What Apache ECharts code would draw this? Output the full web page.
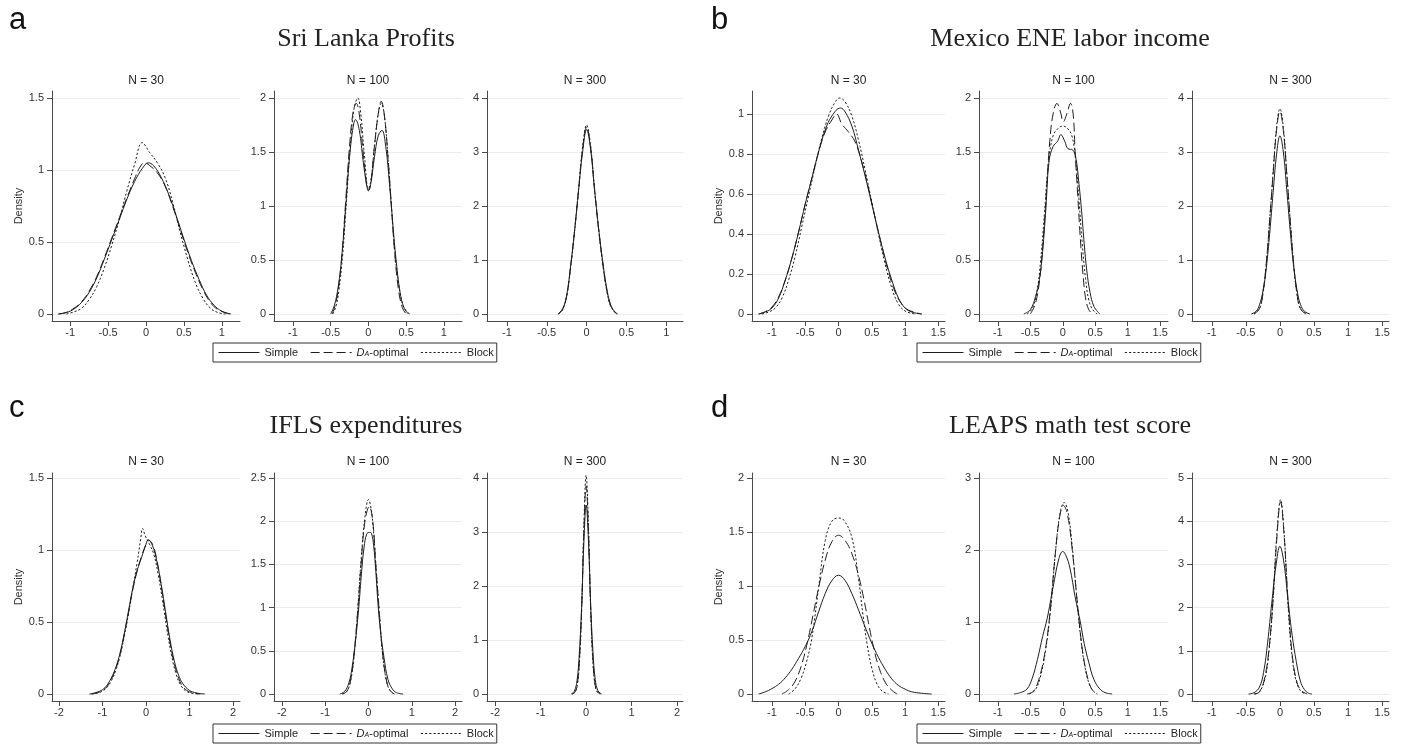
<!DOCTYPE html>
<html><head><meta charset="utf-8">
<script src="https://cdn.jsdelivr.net/npm/echarts@6/dist/echarts.min.js"></script>
<style>html,body{margin:0;padding:0;background:#fff}#c{width:1402px;height:746px}</style>
</head><body><div id="c"></div><script>
// ---------------- DATA ----------------
const seriesNames = ['Simple', 'DA-optimal', 'Block'];
const panelLetters = ['a', 'b', 'c', 'd'];
const panelTitles = ['Sri Lanka Profits', 'Mexico ENE labor income', 'IFLS expenditures', 'LEAPS math test score'];
const sampleSizes = ['N = 30', 'N = 100', 'N = 300'];

const xTicksA = [-1, -0.5, 0, 0.5, 1];
const xTicksB = [-1, -0.5, 0, 0.5, 1, 1.5];
const xTicksC = [-2, -1, 0, 1, 2];
const xTicksD = [-1, -0.5, 0, 0.5, 1, 1.5];

const yTicksA30 = [0, 0.5, 1, 1.5];
const yTicksA100 = [0, 0.5, 1, 1.5, 2];
const yTicksA300 = [0, 1, 2, 3, 4];
const yTicksB30 = [0, 0.2, 0.4, 0.6, 0.8, 1];
const yTicksB100 = [0, 0.5, 1, 1.5, 2];
const yTicksB300 = [0, 1, 2, 3, 4];
const yTicksC30 = [0, 0.5, 1, 1.5];
const yTicksC100 = [0, 0.5, 1, 1.5, 2, 2.5];
const yTicksC300 = [0, 1, 2, 3, 4];
const yTicksD30 = [0, 0.5, 1, 1.5, 2];
const yTicksD100 = [0, 1, 2, 3];
const yTicksD300 = [0, 1, 2, 3, 4, 5];

// Panel a: Sri Lanka Profits
const a30Simple = [[-1.16,0],[-1.05,0.01],[-0.95,0.035],[-0.85,0.08],[-0.75,0.15],[-0.65,0.25],[-0.55,0.38],[-0.45,0.52],[-0.35,0.66],[-0.25,0.8],[-0.15,0.92],[-0.05,1.01],[0.03,1.05],[0.1,1.03],[0.2,0.95],[0.3,0.83],[0.4,0.68],[0.5,0.52],[0.6,0.37],[0.7,0.24],[0.8,0.13],[0.9,0.06],[1.0,0.02],[1.12,0]];
const a30Dopt = [[-1.15,0],[-1.05,0.012],[-0.95,0.04],[-0.85,0.085],[-0.75,0.16],[-0.65,0.26],[-0.55,0.39],[-0.45,0.53],[-0.35,0.67],[-0.25,0.81],[-0.15,0.94],[-0.08,1.02],[-0.02,1.05],[0.05,1.03],[0.15,0.98],[0.25,0.89],[0.35,0.75],[0.45,0.59],[0.55,0.43],[0.65,0.29],[0.75,0.17],[0.85,0.08],[0.95,0.03],[1.1,0]];
const a30Block = [[-1.05,0],[-0.95,0.015],[-0.85,0.04],[-0.75,0.1],[-0.65,0.19],[-0.55,0.32],[-0.45,0.48],[-0.35,0.66],[-0.25,0.86],[-0.15,1.04],[-0.05,1.19],[0.05,1.12],[0.15,1.05],[0.25,0.95],[0.35,0.78],[0.45,0.57],[0.55,0.38],[0.65,0.22],[0.75,0.11],[0.85,0.04],[0.95,0.01],[1.05,0]];
const a100Simple = [[-0.5,0],[-0.45,0.08],[-0.4,0.25],[-0.35,0.55],[-0.3,1.0],[-0.25,1.45],[-0.2,1.74],[-0.17,1.8],[-0.12,1.7],[-0.07,1.42],[-0.02,1.18],[0,1.15],[0.03,1.2],[0.08,1.45],[0.13,1.65],[0.18,1.7],[0.23,1.55],[0.28,1.2],[0.33,0.78],[0.37,0.48],[0.42,0.2],[0.47,0.06],[0.53,0]];
const a100Dopt = [[-0.48,0],[-0.44,0.08],[-0.4,0.22],[-0.35,0.55],[-0.3,1.05],[-0.25,1.55],[-0.2,1.88],[-0.16,1.95],[-0.12,1.85],[-0.07,1.5],[-0.02,1.18],[0,1.14],[0.03,1.2],[0.08,1.55],[0.13,1.85],[0.17,1.97],[0.21,1.85],[0.26,1.45],[0.31,0.95],[0.35,0.55],[0.4,0.22],[0.45,0.06],[0.5,0]];
const a100Block = [[-0.47,0],[-0.43,0.07],[-0.39,0.22],[-0.34,0.55],[-0.29,1.05],[-0.24,1.55],[-0.19,1.9],[-0.14,2.0],[-0.1,1.85],[-0.05,1.45],[0,1.16],[0.03,1.22],[0.08,1.55],[0.13,1.85],[0.17,1.95],[0.21,1.85],[0.26,1.45],[0.31,0.95],[0.35,0.58],[0.4,0.28],[0.45,0.1],[0.5,0.03],[0.55,0]];
const a300Simple = [[-0.36,0],[-0.3,0.1],[-0.25,0.35],[-0.2,0.9],[-0.15,1.55],[-0.1,2.3],[-0.05,3.0],[0,3.42],[0.05,3.05],[0.1,2.3],[0.15,1.6],[0.2,1.0],[0.25,0.5],[0.3,0.18],[0.35,0.05],[0.39,0]];
const a300Dopt = [[-0.35,0],[-0.3,0.09],[-0.25,0.33],[-0.2,0.88],[-0.15,1.55],[-0.1,2.3],[-0.05,3.05],[0,3.46],[0.05,3.1],[0.1,2.3],[0.15,1.58],[0.2,0.97],[0.25,0.47],[0.3,0.16],[0.35,0.04],[0.38,0]];
const a300Block = [[-0.35,0],[-0.3,0.08],[-0.25,0.32],[-0.2,0.86],[-0.15,1.55],[-0.1,2.32],[-0.05,3.1],[0,3.5],[0.05,3.12],[0.1,2.32],[0.15,1.58],[0.2,0.95],[0.25,0.45],[0.3,0.15],[0.35,0.04],[0.38,0]];

// Panel b: Mexico ENE labor income
const b30Simple = [[-1.2,0],[-1.1,0.01],[-1.0,0.03],[-0.9,0.08],[-0.8,0.17],[-0.7,0.28],[-0.6,0.41],[-0.5,0.55],[-0.4,0.68],[-0.3,0.81],[-0.2,0.92],[-0.1,0.99],[0.03,1.03],[0.1,1.01],[0.2,0.94],[0.3,0.82],[0.4,0.69],[0.5,0.55],[0.6,0.41],[0.7,0.28],[0.8,0.17],[0.9,0.08],[1.0,0.03],[1.1,0.01],[1.25,0]];
const b30Dopt = [[-1.2,0],[-1.1,0.012],[-1.0,0.035],[-0.9,0.085],[-0.8,0.17],[-0.7,0.28],[-0.6,0.41],[-0.5,0.55],[-0.4,0.68],[-0.3,0.81],[-0.2,0.91],[-0.1,0.97],[-0.03,1.0],[0.05,0.95],[0.15,0.91],[0.25,0.86],[0.35,0.76],[0.45,0.63],[0.55,0.48],[0.65,0.34],[0.75,0.21],[0.85,0.11],[0.95,0.05],[1.05,0.02],[1.25,0]];
const b30Block = [[-1.15,0],[-1.05,0.01],[-0.95,0.03],[-0.85,0.08],[-0.75,0.17],[-0.65,0.29],[-0.55,0.44],[-0.45,0.59],[-0.35,0.74],[-0.25,0.88],[-0.15,0.99],[-0.05,1.06],[0.02,1.08],[0.1,1.06],[0.2,0.99],[0.3,0.87],[0.4,0.72],[0.5,0.56],[0.6,0.4],[0.7,0.25],[0.8,0.13],[0.9,0.05],[1.0,0.015],[1.15,0]];
const b100Simple = [[-0.6,0],[-0.5,0.04],[-0.42,0.16],[-0.36,0.32],[-0.31,0.58],[-0.26,0.98],[-0.21,1.42],[-0.15,1.55],[-0.08,1.6],[-0.03,1.66],[0.03,1.6],[0.08,1.53],[0.15,1.52],[0.2,1.45],[0.25,1.2],[0.29,0.95],[0.33,0.65],[0.37,0.4],[0.42,0.2],[0.48,0.07],[0.57,0]];
const b100Dopt = [[-0.5,0],[-0.42,0.1],[-0.35,0.35],[-0.3,0.7],[-0.25,1.15],[-0.2,1.6],[-0.15,1.85],[-0.09,1.95],[-0.04,1.88],[0.01,1.78],[0.06,1.85],[0.12,1.95],[0.16,1.85],[0.19,1.5],[0.23,1.1],[0.27,0.7],[0.31,0.38],[0.35,0.15],[0.4,0.04],[0.46,0]];
const b100Block = [[-0.55,0],[-0.47,0.05],[-0.4,0.2],[-0.34,0.5],[-0.28,0.95],[-0.22,1.4],[-0.15,1.65],[-0.07,1.72],[0,1.74],[0.07,1.72],[0.14,1.65],[0.2,1.42],[0.25,1.05],[0.3,0.65],[0.35,0.33],[0.4,0.13],[0.46,0.04],[0.53,0]];
const b300Simple = [[-0.42,0],[-0.35,0.05],[-0.3,0.17],[-0.25,0.42],[-0.2,0.85],[-0.15,1.5],[-0.1,2.25],[-0.05,2.95],[0,3.3],[0.05,3.0],[0.1,2.3],[0.15,1.55],[0.2,0.9],[0.25,0.45],[0.3,0.18],[0.36,0.05],[0.44,0]];
const b300Dopt = [[-0.38,0],[-0.3,0.1],[-0.25,0.38],[-0.2,0.95],[-0.15,1.75],[-0.1,2.6],[-0.05,3.4],[0,3.75],[0.05,3.4],[0.1,2.6],[0.15,1.75],[0.2,0.95],[0.25,0.38],[0.3,0.1],[0.38,0]];
const b300Block = [[-0.38,0],[-0.3,0.1],[-0.25,0.37],[-0.2,0.93],[-0.15,1.75],[-0.1,2.62],[-0.05,3.45],[0,3.8],[0.05,3.45],[0.1,2.62],[0.15,1.75],[0.2,0.93],[0.25,0.37],[0.3,0.1],[0.4,0]];

// Panel c: IFLS expenditures
const c30Simple = [[-1.3,0],[-1.15,0.01],[-1.0,0.03],[-0.9,0.06],[-0.8,0.11],[-0.7,0.18],[-0.6,0.28],[-0.5,0.42],[-0.4,0.58],[-0.3,0.74],[-0.2,0.86],[-0.1,0.95],[0,1.04],[0.05,1.07],[0.15,1.03],[0.25,0.92],[0.35,0.76],[0.45,0.57],[0.55,0.38],[0.65,0.23],[0.75,0.13],[0.85,0.07],[1.0,0.025],[1.15,0.008],[1.35,0]];
const c30Dopt = [[-1.25,0],[-1.1,0.01],[-1.0,0.025],[-0.9,0.05],[-0.8,0.1],[-0.7,0.17],[-0.6,0.27],[-0.5,0.41],[-0.4,0.57],[-0.3,0.73],[-0.2,0.86],[-0.1,0.96],[0,1.04],[0.05,1.07],[0.15,1.04],[0.25,0.93],[0.35,0.75],[0.45,0.55],[0.55,0.36],[0.65,0.21],[0.75,0.11],[0.85,0.05],[1.0,0.015],[1.25,0]];
const c30Block = [[-1.25,0],[-1.1,0.008],[-1.0,0.02],[-0.9,0.045],[-0.8,0.09],[-0.7,0.16],[-0.6,0.26],[-0.5,0.4],[-0.4,0.56],[-0.3,0.74],[-0.2,0.92],[-0.12,1.08],[-0.08,1.15],[-0.02,1.1],[0.08,1.04],[0.18,0.97],[0.28,0.83],[0.38,0.65],[0.48,0.45],[0.58,0.28],[0.68,0.15],[0.8,0.06],[0.95,0.015],[1.2,0]];
const c100Simple = [[-0.66,0],[-0.55,0.03],[-0.45,0.13],[-0.38,0.3],[-0.32,0.52],[-0.27,0.75],[-0.22,1.02],[-0.16,1.4],[-0.1,1.7],[-0.04,1.85],[0.02,1.87],[0.07,1.86],[0.12,1.72],[0.17,1.42],[0.22,1.05],[0.28,0.72],[0.36,0.42],[0.45,0.17],[0.55,0.06],[0.65,0.015],[0.8,0]];
const c100Dopt = [[-0.6,0],[-0.5,0.03],[-0.42,0.14],[-0.34,0.42],[-0.25,0.95],[-0.17,1.5],[-0.08,2.0],[0.02,2.17],[0.1,2.0],[0.17,1.5],[0.25,0.95],[0.33,0.45],[0.42,0.15],[0.5,0.04],[0.6,0]];
const c100Block = [[-0.6,0],[-0.5,0.03],[-0.42,0.13],[-0.34,0.4],[-0.25,0.95],[-0.17,1.55],[-0.08,2.05],[0,2.25],[0.08,2.08],[0.17,1.5],[0.25,0.95],[0.33,0.45],[0.42,0.14],[0.5,0.04],[0.6,0]];
const c300Simple = [[-0.33,0],[-0.26,0.05],[-0.2,0.25],[-0.15,0.75],[-0.1,1.6],[-0.05,2.8],[0,3.5],[0.05,2.85],[0.1,1.65],[0.15,0.78],[0.2,0.27],[0.26,0.06],[0.34,0]];
const c300Dopt = [[-0.31,0],[-0.25,0.03],[-0.2,0.15],[-0.15,0.6],[-0.1,1.55],[-0.05,3.0],[0,3.85],[0.05,3.05],[0.1,1.6],[0.15,0.62],[0.2,0.16],[0.25,0.04],[0.31,0]];
const c300Block = [[-0.3,0],[-0.25,0.03],[-0.2,0.13],[-0.15,0.55],[-0.1,1.5],[-0.05,3.1],[0,4.05],[0.05,3.15],[0.1,1.55],[0.15,0.57],[0.2,0.14],[0.25,0.03],[0.3,0]];

// Panel d: LEAPS math test score
const d30Simple = [[-1.2,0],[-1.1,0.02],[-1.0,0.05],[-0.9,0.09],[-0.8,0.15],[-0.7,0.23],[-0.6,0.33],[-0.5,0.44],[-0.4,0.58],[-0.3,0.76],[-0.2,0.93],[-0.1,1.05],[0,1.1],[0.1,1.05],[0.2,0.93],[0.3,0.78],[0.4,0.62],[0.5,0.47],[0.6,0.34],[0.7,0.23],[0.8,0.14],[0.9,0.08],[1.0,0.045],[1.1,0.02],[1.25,0.007],[1.4,0]];
const d30Dopt = [[-0.85,0],[-0.75,0.04],[-0.65,0.12],[-0.55,0.28],[-0.46,0.5],[-0.38,0.74],[-0.3,0.98],[-0.2,1.24],[-0.1,1.41],[0,1.47],[0.1,1.42],[0.2,1.3],[0.3,1.1],[0.38,0.88],[0.45,0.66],[0.52,0.45],[0.6,0.26],[0.7,0.11],[0.8,0.035],[0.88,0]];
const d30Block = [[-0.75,0],[-0.65,0.05],[-0.56,0.15],[-0.48,0.3],[-0.4,0.52],[-0.3,0.98],[-0.2,1.42],[-0.1,1.6],[0,1.63],[0.08,1.61],[0.2,1.45],[0.3,1.07],[0.37,0.72],[0.43,0.46],[0.5,0.24],[0.58,0.09],[0.66,0.025],[0.75,0]];
const d100Simple = [[-0.75,0],[-0.65,0.02],[-0.55,0.07],[-0.47,0.22],[-0.39,0.48],[-0.31,0.8],[-0.24,1.05],[-0.15,1.48],[-0.06,1.88],[0,1.98],[0.05,1.92],[0.11,1.75],[0.19,1.35],[0.27,1.0],[0.33,0.7],[0.4,0.44],[0.48,0.2],[0.57,0.07],[0.65,0.02],[0.76,0]];
const d100Dopt = [[-0.55,0],[-0.45,0.04],[-0.37,0.2],[-0.28,0.55],[-0.2,1.1],[-0.12,1.9],[-0.05,2.45],[0.01,2.62],[0.07,2.5],[0.14,2.05],[0.21,1.4],[0.27,0.85],[0.33,0.45],[0.4,0.17],[0.46,0.05],[0.53,0]];
const d100Block = [[-0.52,0],[-0.43,0.05],[-0.35,0.22],[-0.27,0.58],[-0.19,1.15],[-0.11,2.0],[-0.04,2.52],[0.02,2.66],[0.08,2.53],[0.15,2.0],[0.22,1.3],[0.28,0.75],[0.34,0.38],[0.41,0.13],[0.47,0.04],[0.53,0]];
const d300Simple = [[-0.46,0],[-0.38,0.03],[-0.3,0.16],[-0.24,0.5],[-0.18,1.2],[-0.12,2.1],[-0.06,2.95],[0,3.42],[0.06,3.02],[0.12,2.15],[0.18,1.35],[0.24,0.75],[0.3,0.3],[0.36,0.1],[0.42,0.02],[0.47,0]];
const d300Dopt = [[-0.38,0],[-0.3,0.05],[-0.22,0.4],[-0.16,1.05],[-0.1,2.2],[-0.05,3.5],[0.01,4.45],[0.06,3.7],[0.1,2.65],[0.14,1.65],[0.18,0.92],[0.23,0.4],[0.3,0.1],[0.4,0]];
const d300Block = [[-0.37,0],[-0.3,0.05],[-0.22,0.35],[-0.16,1.0],[-0.1,2.2],[-0.05,3.6],[0.01,4.5],[0.06,3.75],[0.1,2.6],[0.14,1.55],[0.18,0.85],[0.23,0.35],[0.3,0.08],[0.38,0]];

// ---------------- ASSEMBLY ----------------
const subplotData = [
  [ {xt:xTicksA, yt:yTicksA30, lines:[a30Simple,a30Dopt,a30Block]},
    {xt:xTicksA, yt:yTicksA100, lines:[a100Simple,a100Dopt,a100Block]},
    {xt:xTicksA, yt:yTicksA300, lines:[a300Simple,a300Dopt,a300Block]} ],
  [ {xt:xTicksB, yt:yTicksB30, lines:[b30Simple,b30Dopt,b30Block]},
    {xt:xTicksB, yt:yTicksB100, lines:[b100Simple,b100Dopt,b100Block]},
    {xt:xTicksB, yt:yTicksB300, lines:[b300Simple,b300Dopt,b300Block]} ],
  [ {xt:xTicksC, yt:yTicksC30, lines:[c30Simple,c30Dopt,c30Block]},
    {xt:xTicksC, yt:yTicksC100, lines:[c100Simple,c100Dopt,c100Block]},
    {xt:xTicksC, yt:yTicksC300, lines:[c300Simple,c300Dopt,c300Block]} ],
  [ {xt:xTicksD, yt:yTicksD30, lines:[d30Simple,d30Dopt,d30Block]},
    {xt:xTicksD, yt:yTicksD100, lines:[d100Simple,d100Dopt,d100Block]},
    {xt:xTicksD, yt:yTicksD300, lines:[d300Simple,d300Dopt,d300Block]} ]
];

// layout (pixels)
const colGrids = [
  [[52,188],[274,188],[487,196]],
  [[752,193],[979,189],[1192,197]]
];
const rowGeom = [ {top:91, height:230, zeroOff:7, titleY:81, panelTitleY:39, letterY:20, legendTop:343},
                  {top:473, height:228, zeroOff:7, titleY:462, panelTitleY:426, letterY:408, legendTop:724} ];
const xRanges = [
  [[-1.24,1.24],[-1.25,1.24],[-1.25,1.21]],
  [[-1.3,1.6],[-1.29,1.62],[-1.29,1.6]],
  [[-2.16,2.16],[-2.18,2.16],[-2.18,2.13]],
  [[-1.3,1.6],[-1.29,1.62],[-1.29,1.6]]
];
const panelCenterX = [366, 1070];
const legendLeft = [213, 917];

const SANS = 'Liberation Sans, Arial, Helvetica, sans-serif';
const LINE = '#1e1e1e';
const AX = '#4a4a4a';
const dashTypes = ['solid', [9, 4], [2.2, 2]];

const grids = [], xAxes = [], yAxes = [], series = [], graphics = [], legends = [];
let gi = 0;
for (let p = 0; p < 4; p++) {
  const row = Math.floor(p / 2), col = p % 2;
  const rg = rowGeom[row];
  for (let s = 0; s < 3; s++) {
    const sd = subplotData[p][s];
    const [left, width] = colGrids[col][s];
    const topTick = sd.yt[sd.yt.length - 1];
    const topTickPx = (p === 1 && s === 0) ? 200 : 216;
    const scale = topTickPx / topTick;
    const ymin = -rg.zeroOff / scale;
    const ymax = (rg.height - rg.zeroOff) / scale;
    grids.push({left: left, top: rg.top, width: width, height: rg.height, containLabel: false, outerBoundsMode: 'none'});
    xAxes.push({
      type: 'value', gridIndex: gi, min: xRanges[p][s][0], max: xRanges[p][s][1], position: 'bottom',
      axisLine: {show: true, onZero: false, lineStyle: {color: AX, width: 1}},
      axisTick: {show: true, length: 5, customValues: sd.xt, lineStyle: {color: AX, width: 1}},
      axisLabel: {show: true, customValues: sd.xt, fontSize: 11, color: '#333', margin: 6, fontFamily: SANS},
      splitLine: {show: false}
    });
    yAxes.push({
      type: 'value', gridIndex: gi, min: ymin, max: ymax, position: 'left',
      name: s === 0 ? 'Density' : '', nameLocation: 'middle', nameGap: 28,
      nameTextStyle: {fontSize: 11, color: '#333', fontFamily: SANS},
      axisLine: {show: true, onZero: false, lineStyle: {color: AX, width: 1}},
      axisTick: {show: true, length: 5, customValues: sd.yt, lineStyle: {color: AX, width: 1}},
      axisLabel: {show: true, customValues: sd.yt, fontSize: 11, color: '#333', margin: 8, fontFamily: SANS},
      splitLine: {show: true, lineStyle: {color: '#ececec', width: 1}}
    });
    for (let k = 0; k < 3; k++) {
      series.push({
        type: 'line', name: seriesNames[k], xAxisIndex: gi, yAxisIndex: gi,
        data: sd.lines[k], symbol: 'none', showSymbol: false, smooth: 0.4,
        lineStyle: {color: LINE, width: 1, type: dashTypes[k]}, itemStyle: {color: LINE},
        silent: true, animation: false, z: 2 + k
      });
    }
    graphics.push({type: 'text', x: left + width / 2, y: rg.titleY,
      style: {text: sampleSizes[s], fill: '#222', font: '12px ' + SANS, textAlign: 'center', textVerticalAlign: 'middle'}});
    gi++;
  }
  graphics.push({type: 'text', x: panelCenterX[col], y: rg.panelTitleY,
    style: {text: panelTitles[p], fill: '#222', font: '26px Liberation Serif, Times New Roman, serif', textAlign: 'center', textVerticalAlign: 'middle'}});
  graphics.push({type: 'text', x: col === 0 ? 9 : 711, y: rg.letterY,
    style: {text: panelLetters[p], fill: '#111', font: '31px ' + SANS, textAlign: 'left', textVerticalAlign: 'middle'}});
  legends.push({
    left: legendLeft[col], top: rg.legendTop, orient: 'horizontal',
    data: seriesNames, selectedMode: false,
    borderColor: '#333', borderWidth: 1, borderRadius: 0, padding: [4, 3, 4, 5],
    itemWidth: 41, itemHeight: 10, itemGap: 12,
    itemStyle: {opacity: 0, borderWidth: 0},
    lineStyle: {width: 1},
    textStyle: {fontSize: 11, color: '#222', fontFamily: SANS,
      rich: {i: {fontSize: 11, fontStyle: 'italic', fontFamily: SANS, color: '#222'},
             s: {fontSize: 7, fontStyle: 'italic', fontFamily: SANS, color: '#222', verticalAlign: 'bottom', padding: [4, 0, 0, 0]},
             n: {fontSize: 11, fontFamily: SANS, color: '#222'}}},
    formatter: function (name) { return name === 'DA-optimal' ? '{i|D}{s|A}{n|-optimal}' : name; }
  });
}

const chart = echarts.init(document.getElementById('c'), null, {renderer: 'canvas'});
chart.setOption({
  backgroundColor: '#ffffff',
  animation: false,
  grid: grids, xAxis: xAxes, yAxis: yAxes, series: series,
  legend: legends, graphic: graphics
});
</script></body></html>
